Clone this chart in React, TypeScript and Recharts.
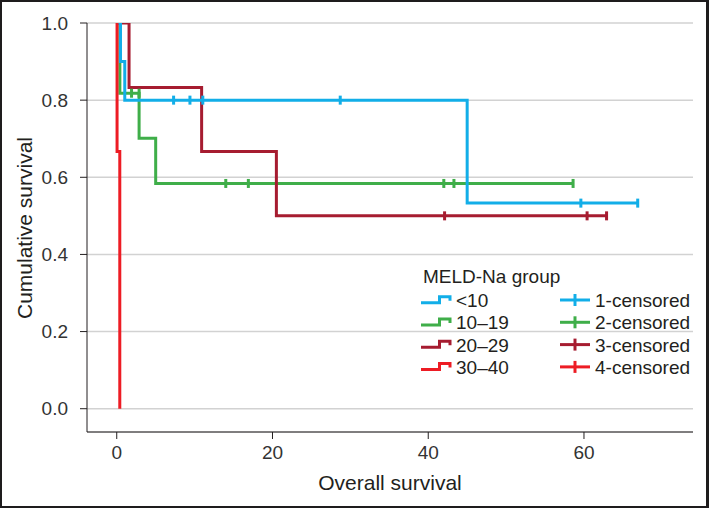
import React from "react"
import { ComposedChart, Line, Scatter, XAxis, YAxis, CartesianGrid } from "recharts"

// Kaplan-Meier step points (time, survival) per MELD-Na group
const groups = ["<10", "10–19", "20–29", "30–40"]
const colors = ["#12aee8", "#3fae49", "#a61c30", "#ed1c24"]

const blueTimes = [0, 0.48, 1.03, 45.0, 66.9]
const blueSurv = [1, 0.9, 0.8, 0.533, 0.533]
const greenTimes = [0, 0.4, 2.87, 5.0, 58.6]
const greenSurv = [1, 0.818, 0.701, 0.584, 0.584]
const darkRedTimes = [0, 1.58, 10.9, 20.5, 62.9]
const darkRedSurv = [1, 0.833, 0.667, 0.5, 0.5]
const redTimes = [0, 0.04, 0.39]
const redSurv = [1, 0.667, 0]

// censored observations
const blueCensorTimes = [7.3, 9.4, 11.05, 28.7, 59.6, 66.9]
const blueCensorSurv = [0.8, 0.8, 0.8, 0.8, 0.533, 0.533]
const greenCensorTimes = [1.9, 2.87, 14.0, 16.9, 42.0, 43.3, 58.6]
const greenCensorSurv = [0.818, 0.818, 0.584, 0.584, 0.584, 0.584, 0.584]
const darkRedCensorTimes = [42.1, 60.4, 62.9]
const darkRedCensorSurv = [0.5, 0.5, 0.5]

const xTicks = [0, 20, 40, 60]
const yTicks = [0, 0.2, 0.4, 0.6, 0.8, 1.0]

const toPoints = (xs: number[], ys: number[]) => xs.map((x, i) => ({ x, y: ys[i] }))

const curves = [
  toPoints(blueTimes, blueSurv),
  toPoints(greenTimes, greenSurv),
  toPoints(darkRedTimes, darkRedSurv),
  toPoints(redTimes, redSurv),
]
const censors = [
  toPoints(blueCensorTimes, blueCensorSurv),
  toPoints(greenCensorTimes, greenCensorSurv),
  toPoints(darkRedCensorTimes, darkRedCensorSurv),
  [] as { x: number; y: number }[],
]

const font = "'Liberation Sans', Arial, Helvetica, sans-serif"
const ink = "#231f20"
const drawOrder = [1, 2, 0, 3]

const censorShape = (color: string) => (props: any) => (
  <rect x={props.cx - 1.5} y={props.cy - 4.5} width={3} height={9} fill={color} />
)

export default function App() {
  return (
    <div style={{ position: "absolute", left: 0, top: 0, width: 709, height: 508, background: "#fff" }}>
      <ComposedChart width={709} height={508} margin={{ top: 23, right: 16, bottom: 36, left: 0 }}>
        <CartesianGrid vertical={false} stroke="#d2d2d2" strokeWidth={1.5} />
        <XAxis
          dataKey="x"
          type="number"
          domain={[-3.82, 74]}
          allowDataOverflow
          ticks={xTicks}
          height={40}
          tickSize={7}
          tickMargin={7}
          stroke={ink}
          tick={{ fill: "#333", fontSize: 19, fontFamily: font }}
        />
        <YAxis
          dataKey="y"
          type="number"
          domain={[-0.0604, 1]}
          allowDataOverflow
          ticks={yTicks}
          width={87}
          tickSize={7}
          tickMargin={12}
          stroke={ink}
          tickFormatter={(v: number) => v.toFixed(1)}
          tick={{ fill: "#333", fontSize: 19, fontFamily: font }}
        />
        {drawOrder.map((g) => (
          <Line
            key={"l" + g}
            data={curves[g]}
            dataKey="y"
            type="stepAfter"
            stroke={colors[g]}
            strokeWidth={3}
            dot={false}
            isAnimationActive={false}
          />
        ))}
        {drawOrder.map((g) => (
          <Scatter
            key={"c" + g}
            data={censors[g]}
            dataKey="y"
            fill={colors[g]}
            shape={censorShape(colors[g])}
            isAnimationActive={false}
          />
        ))}
      </ComposedChart>
      <svg
        width={709}
        height={508}
        style={{ position: "absolute", left: 0, top: 0, pointerEvents: "none" }}
        fontFamily={font}
      >
        <text x={390} y={490} textAnchor="middle" fontSize={21} fill={ink}>
          Overall survival
        </text>
        <text
          x={0}
          y={0}
          transform="translate(32 228) rotate(-90)"
          textAnchor="middle"
          fontSize={21}
          fill={ink}
        >
          Cumulative survival
        </text>
        <text x={423} y={283} fontSize={19} fill={ink}>
          MELD-Na group
        </text>
        {groups.map((name, i) => {
          const base = 307 + i * 22.3
          return (
            <g key={name}>
              <path
                d={`M421 ${base - 4.3} H439.5 V${base - 10.3} H450 V${base - 6.3}`}
                stroke={colors[i]}
                strokeWidth={3}
                fill="none"
              />
              <text x={456} y={base} fontSize={19} fill={ink}>
                {name}
              </text>
              <line x1={560} x2={590} y1={base - 7} y2={base - 7} stroke={colors[i]} strokeWidth={3} />
              <line x1={575} x2={575} y1={base - 13} y2={base - 1} stroke={colors[i]} strokeWidth={3} />
              <text x={595} y={base} fontSize={19} fill={ink}>
                {`${i + 1}-censored`}
              </text>
            </g>
          )
        })}
      </svg>
      <div
        style={{
          position: "absolute",
          left: 0,
          top: 0,
          width: 709,
          height: 508,
          boxSizing: "border-box",
          borderStyle: "solid",
          borderColor: "#1e1c1d",
          borderWidth: "2px 3px 2px 2px",
          pointerEvents: "none",
        }}
      />
    </div>
  )
}
